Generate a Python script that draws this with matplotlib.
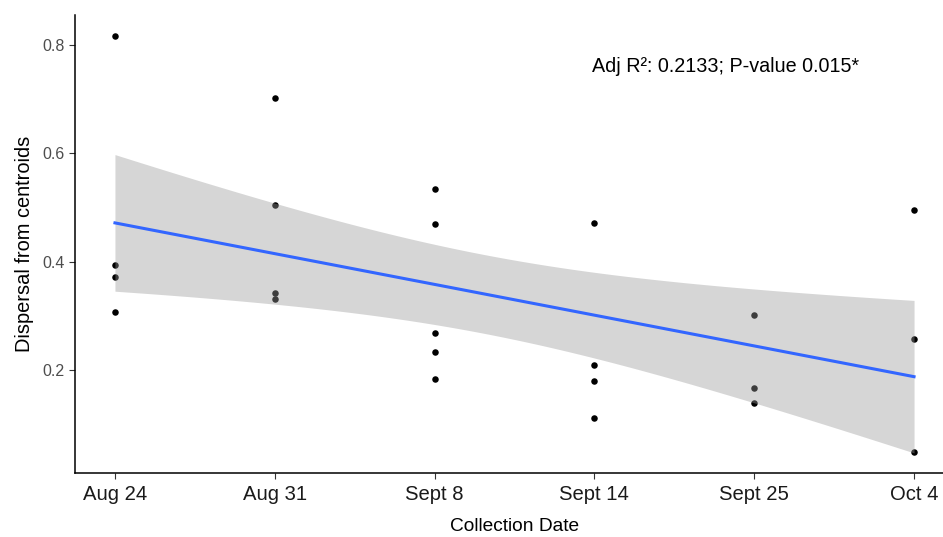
import matplotlib.pyplot as plt
import numpy as np

plt.rcParams['font.family'] = ['Liberation Sans', 'DejaVu Sans']

dates = ['Aug 24', 'Aug 31', 'Sept 8', 'Sept 14', 'Sept 25', 'Oct 4']
# dispersal values per collection date
aug24 = [0.816, 0.394, 0.372, 0.307]
aug31 = [0.701, 0.505, 0.342, 0.331]
sep8 = [0.534, 0.470, 0.268, 0.233, 0.183]
sep14 = [0.471, 0.209, 0.181, 0.112]
sep25 = [0.302, 0.167, 0.140]
oct4 = [0.495, 0.257, 0.049]
groups = [aug24, aug31, sep8, sep14, sep25, oct4]
stat_label = 'Adj R\u00b2: 0.2133; P-value 0.015*'

x = np.concatenate([[i + 1] * len(g) for i, g in enumerate(groups)]).astype(float)
y = np.concatenate(groups)

# linear fit with 95% confidence band
n = len(x)
slope, icpt = np.polyfit(x, y, 1)
resid = y - (icpt + slope * x)
s = np.sqrt(np.sum(resid ** 2) / (n - 2))
t_crit = 2.080  # t(0.975, df=21)
xs = np.linspace(x.min(), x.max(), 80)
fit = icpt + slope * xs
se = s * np.sqrt(1 / n + (xs - x.mean()) ** 2 / np.sum((x - x.mean()) ** 2))

fig = plt.figure(figsize=(9.43, 5.37), dpi=100)
ax = fig.add_axes([75 / 943, 1 - 473 / 537, 879 / 943, 458 / 537])

ax.scatter(x, y, s=22, color='black', zorder=2, linewidths=0)
ax.fill_between(xs, fit - t_crit * se, fit + t_crit * se, color='#999999',
                alpha=0.4, linewidth=0, zorder=3)
ax.plot(xs, fit, color='#3366FF', lw=2.2, zorder=4)

ax.text(4.82, 0.76, stat_label, ha='center', va='center', fontsize=14.2)

pad_x = 0.05 * (x.max() - x.min())
pad_y = 0.05 * (y.max() - y.min())
ax.set_xlim(x.min() - pad_x, x.max() + pad_x)
ax.set_ylim(y.min() - pad_y, y.max() + pad_y)
ax.set_xticks(range(1, 7))
ax.set_xticklabels(dates, fontsize=14.6, color='#1A1A1A')
ax.set_yticks([0.2, 0.4, 0.6, 0.8])
ax.set_yticklabels(['0.2', '0.4', '0.6', '0.8'], fontsize=11.5, color='#4D4D4D')
ax.tick_params(length=4, color='#333333', width=0.8)
ax.tick_params(axis='x', pad=5)

for side in ['top', 'right']:
    ax.spines[side].set_visible(False)
for side in ['left', 'bottom']:
    ax.spines[side].set_linewidth(1.1)
    ax.spines[side].set_color('black')

ax.set_xlabel('Collection Date', fontsize=13.8, labelpad=10)
ax.set_ylabel('Dispersal from centroids', fontsize=14.4, labelpad=6)

fig.savefig('out.png', dpi=100)
